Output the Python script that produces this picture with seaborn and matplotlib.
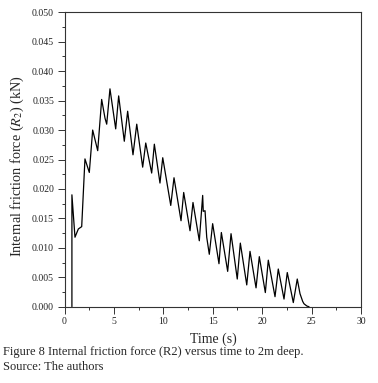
import numpy as np
import pandas as pd
import matplotlib
matplotlib.use("Agg")
import matplotlib.pyplot as plt
from matplotlib.ticker import MultipleLocator, FormatStrFormatter
import seaborn as sns

# values (peaks and troughs of the curve)
time_s = [0.75, 0.75, 1.06, 1.40, 1.74, 2.07, 2.51, 2.85, 3.36, 3.76, 4.10, 4.27, 4.60,
          5.18, 5.48, 6.05, 6.39, 6.93, 7.31, 7.91, 8.22, 8.82, 9.09, 9.66, 9.94,
          10.75, 11.08, 11.79, 12.06, 12.70, 13.00, 13.64, 13.98, 14.04, 14.22, 14.39,
          14.65, 14.99, 15.63, 15.87, 16.51, 16.85, 17.48, 17.79, 18.44, 18.77, 19.38,
          19.71, 20.32, 20.62, 21.30, 21.63, 22.21, 22.54, 23.15, 23.55, 23.83, 24.10,
          24.23, 24.38, 24.54, 24.74]
force_kN = [0.0, 0.019, 0.0118, 0.0132, 0.0136, 0.0251, 0.0228, 0.030, 0.0265, 0.0352,
            0.032, 0.031, 0.037, 0.0302, 0.0358, 0.0281, 0.0332, 0.0258, 0.031, 0.0237,
            0.0278, 0.0227, 0.0276, 0.021, 0.0253, 0.0172, 0.0219, 0.0146, 0.0194,
            0.0129, 0.0177, 0.0112, 0.0189, 0.0162, 0.0163, 0.0118, 0.0089, 0.0141,
            0.0073, 0.0126, 0.006, 0.0124, 0.0047, 0.0108, 0.0037, 0.0094, 0.0032,
            0.0085, 0.0024, 0.0079, 0.0017, 0.0064, 0.0013, 0.0058, 0.0007, 0.0047,
            0.0022, 0.0009, 0.0005, 0.0003, 0.0001, 0.0]

caption = ["Figure 8 Internal friction force (R2) versus time to 2m deep.",
           "Source: The authors"]

df = pd.DataFrame({"t": time_s, "R2": force_kN})

sns.set_style("ticks")
plt.rcParams['font.family'] = ['Liberation Serif', 'DejaVu Serif']
plt.rcParams['mathtext.fontset'] = 'stix'

fig = plt.figure(figsize=(3.78, 3.83), dpi=100)
ax = fig.add_axes([64.5/378, 1-306.7/383, 296.5/378, 294.4/383])

# estimator=None so the repeated x at the start is drawn as a real vertical line
sns.lineplot(data=df, x="t", y="R2", sort=False, estimator=None,
             color="black", lw=0.9, solid_joinstyle='round', ax=ax)

ax.set_xlim(0, 30)
ax.set_ylim(0, 0.05)
ax.xaxis.set_major_locator(MultipleLocator(5))
ax.xaxis.set_minor_locator(MultipleLocator(2.5))
ax.yaxis.set_major_locator(MultipleLocator(0.005))
ax.yaxis.set_minor_locator(MultipleLocator(0.0025))
ax.yaxis.set_major_formatter(FormatStrFormatter('%.3f'))
ax.tick_params(which='major', length=5, width=0.7, labelsize=7, pad=2.5,
               direction='out', color='#333333', labelcolor='#222222')
ax.tick_params(which='minor', length=2.5, width=0.7, direction='out', color='#333333')
for s in ax.spines.values():
    s.set_linewidth(0.8)
    s.set_color('#333333')
    s.set_visible(True)

ax.set_xlabel("")
ax.set_ylabel("")
fig.text(213/378, 1-339/383, "Time (s)", fontsize=10, ha='center', va='center')
fig.text(17/378, 1-166/383, r"Internal friction force ($\mathit{R}_2$) (kN)",
         fontsize=10.3, rotation=90, ha='center', va='center')

fig.text(3/378, 1-352/383, caption[0], fontsize=9, va='center')
fig.text(3/378, 1-367/383, caption[1], fontsize=9, va='center')

fig.savefig("out.png", dpi=100)
